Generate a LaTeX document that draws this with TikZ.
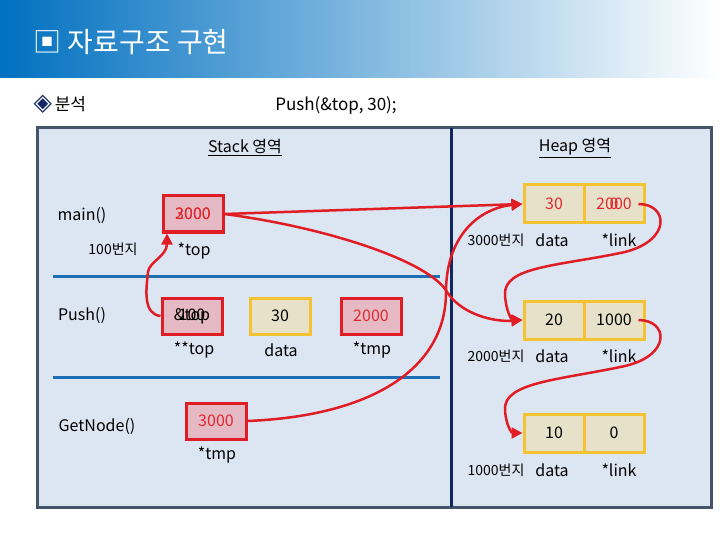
\documentclass[tikz,border=0pt]{standalone}
\usepackage{fontspec}
\setmainfont{Noto Sans CJK KR}
\newfontfamily\symfont{DejaVu Sans}
\usetikzlibrary{positioning,arrows.meta}
\definecolor{titleblue}{RGB}{0,112,192}
\definecolor{titlemid}{RGB}{175,200,232}
\definecolor{panelblue}{RGB}{220,230,242}
\definecolor{panelline}{RGB}{68,84,106}
\definecolor{navyline}{RGB}{16,38,92}
\definecolor{hline}{RGB}{30,110,180}
\definecolor{boxred}{RGB}{224,28,36}
\definecolor{boxpink}{RGB}{230,186,196}
\definecolor{txtred}{RGB}{224,40,50}
\definecolor{boxgold}{RGB}{245,194,50}
\definecolor{boxbeige}{RGB}{230,225,200}
\definecolor{diamondnavy}{RGB}{20,40,100}
\newcommand{\ovl}[2]{\makebox[0pt]{#1}\makebox[0pt]{#2}}

\begin{document}
\begin{tikzpicture}[x=1pt,y=-1pt,>={Triangle[length=11pt,width=11pt]},
  every node/.style={font=\fontsize{16}{18}\selectfont},
  redbox/.style={draw=boxred,line width=3pt,fill=boxpink,minimum width=60pt,minimum height=36pt,text=txtred},
  yelbox/.style={draw=boxgold,line width=3pt,fill=boxbeige,minimum width=60pt,minimum height=36pt},
  heapbox/.style={yelbox,minimum height=38pt},
  addr/.style={font=\fontsize{14}{16}\selectfont},
  ptr/.style={->,draw=boxred,line width=2.5pt}]
\useasboundingbox (0,0) rectangle (720,540);
\fill[left color=titleblue,middle color=titlemid,right color=white] (0,0) rectangle (720,78);
\node[anchor=west,text=white,font=\fontsize{28}{32}\selectfont] (title) at (30,42) {▣ 자료구조 구현};
\node[anchor=west,font=\fontsize{17}{19}\selectfont] (sub) at (30,104) {{\symfont\fontsize{24}{24}\selectfont\textcolor{diamondnavy}{◈}}\,분석};
\node[font=\fontsize{17}{19}\selectfont] (call) at (336,105) {Push(\&top, 30);};

\draw[draw=panelline,line width=3pt,fill=panelblue] (37,128) rectangle (711,507);
\draw[navyline,line width=3pt] (451,128) -- (451,507);
\draw[hline,line width=3pt] (53,276) -- (440,276);
\draw[hline,line width=3pt] (53,377) -- (440,377);
\node (stk) at (245,148) {\underline{Stack 영역}};
\node (hp) at (575,148) {\underline{Heap 영역}};

\node (main) at (82,216) {main()};
\node[addr] (mainAddr) at (113,249) {100번지};
\node[redbox] (mainTop) at (193,214) {\ovl{3000}{2000}};
\node (mainTopL) at (194,251) {*top};

\node (push) at (82,316) {Push()};
\node[redbox,text=black] (pushTop) at (192,316) {\ovl{\&top}{100}};
\node[yelbox] (pushData) at (280,316) {30};
\node[redbox] (pushTmp) at (371,316) {2000};
\node (pushTopL) at (194,350) {**top};
\node (pushDataL) at (281,350) {data};
\node (pushTmpL) at (372,350) {*tmp};

\node (getn) at (97,427) {GetNode()};
\node[redbox] (getTmp) at (216,421) {3000};
\node (getTmpL) at (217,455) {*tmp};

\node[heapbox,text=txtred] (h1data) at (554,204) {30};
\node[heapbox,text=txtred,right=-3pt of h1data] (h1link) {\ovl{2000}{0}};
\node[heapbox] (h2data) at (554,320) {20};
\node[heapbox,right=-3pt of h2data] (h2link) {1000};
\node[heapbox] (h3data) at (554,433) {10};
\node[heapbox,right=-3pt of h3data] (h3link) {0};
\foreach \n/\a/\y in {1/3000/240,2/2000/356,3/1000/470}{
  \node[addr] (h\n addr) at (496,\y) {\a 번지};
  \node (h\n dataL) at (552,\y) {data};
  \node (h\n linkL) at (619,\y) {*link};
}

\draw[ptr] (mainTop.east) -- (h1data.west);
\draw[ptr] (mainTop.east) .. controls (330,228) and (430,262) .. (447,292) .. controls (462,315) and (495,322) .. (h2data.west);
\draw[ptr] (getTmp.east) .. controls (370,416) and (446,370) .. (446,292) .. controls (446,235) and (480,208) .. (h1data.west);
\draw[ptr] (pushTop.west) .. controls (143,314) and (146,290) .. (148,272) .. controls (149,262) and (167,256) .. ([xshift=-26pt]mainTop.south);
\draw[ptr] ([xshift=-7pt]h1link.east) .. controls (668,204) and (672,240) .. (625,252) .. controls (560,266) and (503,266) .. (505,295) .. controls (506,312) and (512,320) .. (h2data.west);
\draw[ptr] ([xshift=-7pt]h2link.east) .. controls (668,320) and (672,355) .. (625,366) .. controls (560,380) and (503,382) .. (505,410) .. controls (506,426) and (512,433) .. (h3data.west);
\end{tikzpicture}
\end{document}
